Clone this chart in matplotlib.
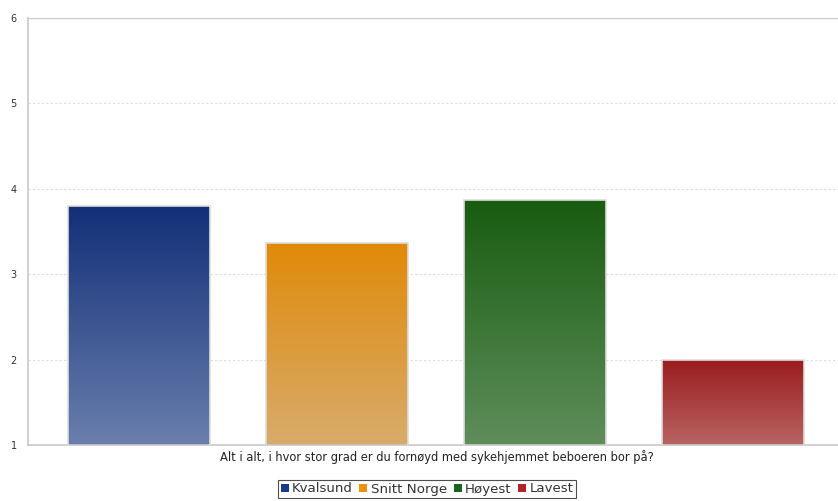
import numpy as np
import matplotlib
matplotlib.use('Agg')
import matplotlib.pyplot as plt
from matplotlib.colors import LinearSegmentedColormap
from matplotlib.patches import Patch

categories = ["Kvalsund", "Snitt Norge", "Høyest", "Lavest"]
values = [3.80, 3.37, 3.87, 2.00]
top_colors = ["#122f78", "#e08a08", "#185c10", "#991c1e"]
bottom_colors = ["#6a7fad", "#d8ab6c", "#5f8e5b", "#b96363"]
legend_colors = ["#1a3a8c", "#e69512", "#16651a", "#b0242a"]
xlabel = "Alt i alt, i hvor stor grad er du fornøyd med sykehjemmet beboeren bor på?"

fig = plt.figure(figsize=(8.38, 5.01), dpi=100)
ax = fig.add_axes([28 / 838, 1 - 445 / 501, 810 / 838, 427 / 501])

x = np.arange(len(categories))
width = 0.717
bars = ax.bar(x, values, width=width, bottom=0, color="none",
              edgecolor="#dddddd", linewidth=1.2, zorder=3)

# vertical gradient fill, dark at the top
grad = np.linspace(0, 1, 256).reshape(-1, 1)
for b, c_top, c_bot in zip(bars, top_colors, bottom_colors):
    cmap = LinearSegmentedColormap.from_list("g", [c_bot, c_top])
    x0 = b.get_x()
    im = ax.imshow(grad, cmap=cmap, aspect="auto", origin="lower",
                   extent=[x0, x0 + b.get_width(), 1, b.get_height()], zorder=2)
    im.set_clip_path(b)

ax.set_xlim(-0.56, 3.53)
ax.set_ylim(1, 6)
ax.set_yticks([1, 2, 3, 4, 5, 6])
ax.set_xticks([])
ax.tick_params(axis="y", length=0, labelsize=7, colors="#333333", pad=8)
for y in [2, 3, 4, 5]:
    ax.axhline(y, color="#dddddd", linestyle=(0, (2, 2)), linewidth=0.8, zorder=1)
ax.axhline(6, color="#cccccc", linewidth=1, zorder=1)
for s in ["top", "right"]:
    ax.spines[s].set_visible(False)
ax.spines["left"].set_color("#c8c8c8")
ax.spines["bottom"].set_color("#c8c8c8")
ax.spines["left"].set_linewidth(1.2)
ax.spines["bottom"].set_linewidth(1.2)

fig.text(437 / 838, 1 - 457 / 501, xlabel, ha="center", va="center", fontsize=8.3, color="#222222")

handles = [Patch(facecolor=c, edgecolor="none") for c in legend_colors]
leg = fig.legend(handles, categories, loc="center", bbox_to_anchor=(427 / 838, 1 - 489 / 501),
                 ncol=4, fontsize=9.6, frameon=True, fancybox=False, handlelength=0.6,
                 handleheight=0.6, handletextpad=0.25, columnspacing=0.5, borderpad=0.2,
                 borderaxespad=0)
leg.get_frame().set_edgecolor("#222222")
leg.get_frame().set_linewidth(0.8)
for t in leg.get_texts():
    t.set_color("#333333")

fig.savefig("out.png", dpi=100)
